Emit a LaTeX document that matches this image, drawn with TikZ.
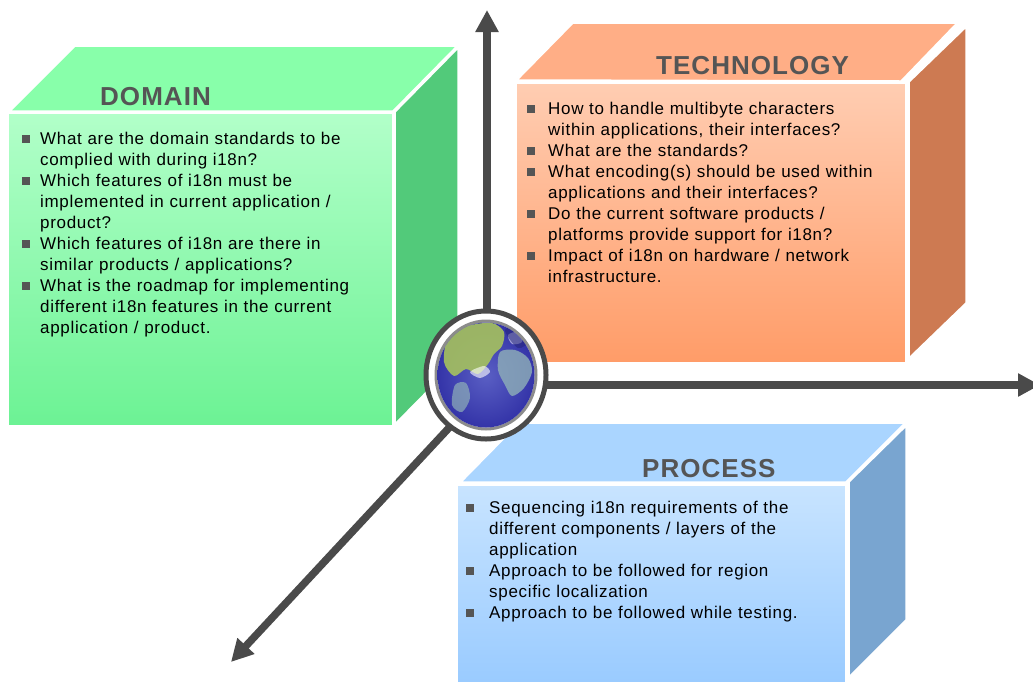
\documentclass[tikz,border=0pt]{standalone}
\usepackage{fontspec}
\setmainfont{Liberation Sans}
\newfontfamily\bodyff[LetterSpace=4]{Liberation Sans}
\newfontfamily\titleff[LetterSpace=4]{Liberation Sans}
\usetikzlibrary{arrows.meta}
\definecolor{arrowc}{HTML}{4A4A4A}
\definecolor{titlec}{HTML}{555555}
\definecolor{bulc}{HTML}{555555}
\definecolor{dtop}{HTML}{88FFAA}
\definecolor{dfronta}{HTML}{B2FFC9}
\definecolor{dfrontb}{HTML}{6CF294}
\definecolor{dside}{HTML}{52CA7A}
\definecolor{ttop}{HTML}{FFAE86}
\definecolor{tfronta}{HTML}{FFCDB2}
\definecolor{tfrontb}{HTML}{FF9C68}
\definecolor{tside}{HTML}{CD7A52}
\definecolor{ptop}{HTML}{AAD5FF}
\definecolor{pfronta}{HTML}{C8E4FF}
\definecolor{pfrontb}{HTML}{98CAFF}
\definecolor{pside}{HTML}{79A5D0}
\definecolor{ringc}{HTML}{4A4A4A}
\definecolor{ring2}{HTML}{8C8C8C}
\definecolor{ocean}{HTML}{3434A8}
\definecolor{oceanl}{HTML}{5A5FC4}
\definecolor{land}{HTML}{A6C25E}
\definecolor{landb}{HTML}{8FB0B8}
\newlength\bind
\newcommand\bitem[1]{\noindent\hangindent=\bind\hangafter=1\makebox[\bind][l]{\textcolor{bulc}{\rule[1.5pt]{8pt}{8pt}}}\rule{0pt}{13pt}#1\par}
\newcommand\bodyfont{\bodyff\fontsize{17}{21}\selectfont}
\begin{document}
\begin{tikzpicture}[x=1pt,y=-1pt,
  arrowline/.style={draw=arrowc, line width=7.5pt, -{Triangle[length=22pt,width=22pt]}},
  face/.style={draw=white, line width=1.5pt},
  title/.style={anchor=base west, inner sep=0pt, text=titlec, font=\titleff\bfseries\fontsize{26}{30}\selectfont},
  txt/.style={anchor=north west, inner sep=0pt, text width=420pt, font=\bodyfont}]
\useasboundingbox (0,0) rectangle (1033,681);
\clip (0,0) rectangle (1033,681);

% axes
\coordinate (O) at (487,387);
\coordinate (up) at (487,10);
\coordinate (right) at (1040,385);
\coordinate (dl) at (231,662);
\draw[arrowline] (O) -- (up);
\draw[arrowline] (487,385) -- (right);
\draw[arrowline] (O) -- (dl);

% DOMAIN box
\fill[dtop, face] (10,111) -- (75,46) -- (457,46) -- (393,111) -- cycle;
\fill[face, top color=dfronta, bottom color=dfrontb] (8,113) rectangle (393,426);
\fill[dside, face] (395,112) -- (458,48) -- (458,360) -- (395,424) -- cycle;
\node[title] (dtitle) at (100,105) {DOMAIN};
\node[txt] (dtext) at (22,131) {\setlength{\bind}{18pt}%
\bitem{What are the domain standards to be\newline complied with during i18n?}%
\bitem{Which features of i18n must be\newline implemented in current application /\newline product?}%
\bitem{Which features of i18n are there in\newline similar products / applications?}%
\bitem{What is the roadmap for implementing\newline different i18n features in the current\newline application / product.}};

% TECHNOLOGY box
\fill[ttop, face] (517,80) -- (573,23) -- (957,23) -- (901,81) -- cycle;
\fill[face, top color=tfronta, bottom color=tfrontb] (516,83) rectangle (906,363);
\fill[tside, face] (909,82) -- (966,27) -- (966,303) -- (909,358) -- cycle;
\node[title] (ttitle) at (656,74) {TECHNOLOGY};
\node[txt] (ttext) at (527,101) {\setlength{\bind}{21pt}%
\bitem{How to handle multibyte characters\newline within applications, their interfaces?}%
\bitem{What are the standards?}%
\bitem{What encoding(s) should be used within\newline applications and their interfaces?}%
\bitem{Do the current software products /\newline platforms provide support for i18n?}%
\bitem{Impact of i18n on hardware / network\newline infrastructure.}};

% PROCESS box
\fill[ptop, face] (461,482) -- (519,423) -- (905,423) -- (846,482) -- cycle;
\fill[face, top color=pfronta, bottom color=pfrontb] (457,485) rectangle (846,690);
\fill[pside, face] (849,482) -- (906,426) -- (906,620) -- (849,677) -- cycle;
\node[title] (ptitle) at (642,477) {PROCESS};
\node[txt] (ptext) at (466,500) {\setlength{\bind}{23pt}%
\bitem{Sequencing i18n requirements of the\newline different components / layers of the\newline application}%
\bitem{Approach to be followed for region\newline specific localization}%
\bitem{Approach to be followed while testing.}};

% globe
\node[circle, inner sep=0pt, minimum size=126pt] (globe) at (486,375) {};
\fill[white, draw=ringc, line width=5pt] (globe.center) ellipse [x radius=60pt, y radius=64pt];
\draw[ring2, line width=3pt] (globe.center) ellipse [x radius=50pt, y radius=54pt];
\begin{scope}
  \clip (globe.center) ellipse [x radius=48.5pt, y radius=52.5pt];
  \shade[inner color=oceanl, outer color=ocean] (globe.center) ellipse [x radius=48.5pt, y radius=52.5pt];
  \fill[land, opacity=0.9] plot[smooth cycle] coordinates {(448,338) (468,326) (492,323) (504,332) (502,346) (494,354) (488,364) (478,374) (466,369) (454,376) (444,362)};
  \fill[landb, opacity=0.8] plot[smooth cycle] coordinates {(500,352) (515,350) (528,358) (532,372) (524,388) (512,396) (505,385) (498,370)};
  \fill[landb, opacity=0.7] plot[smooth cycle] coordinates {(455,385) (466,383) (470,398) (462,412) (452,405)};
  \fill[white, opacity=0.6] plot[smooth cycle] coordinates {(470,372) (484,366) (490,372) (480,378)};
  \fill[white, opacity=0.5] plot[smooth cycle] coordinates {(508,335) (518,332) (522,342) (512,344)};
  \fill[ocean!70!black, opacity=0.5] plot[smooth cycle] coordinates {(505,330) (522,326) (530,340) (518,348)};
\end{scope}
\end{tikzpicture}
\end{document}
